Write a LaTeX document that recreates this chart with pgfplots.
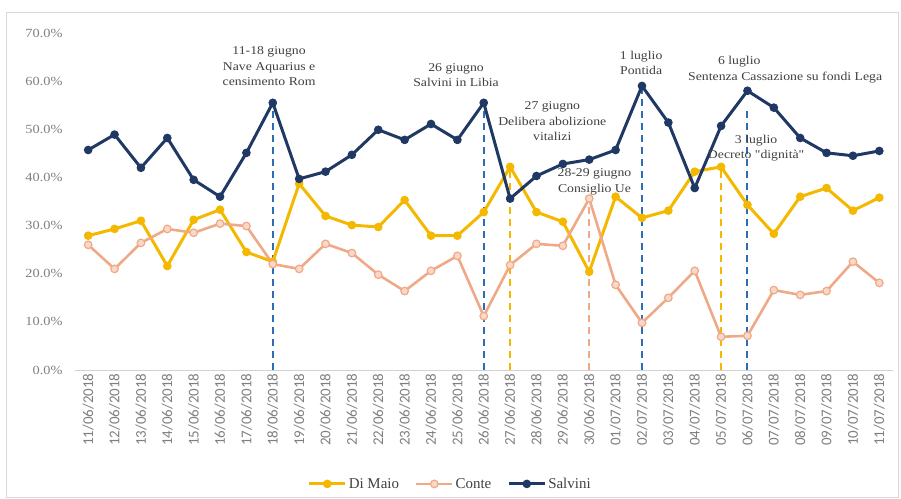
\documentclass[border=0pt]{standalone}
\usepackage{pgfplots}
\pgfplotsset{compat=1.18}
\usepackage{pgfplotstable}
\usepackage{fontspec}
\setmainfont{Liberation Serif}
\newfontfamily\annotfont[FakeStretch=1.15]{Liberation Serif}
\newfontfamily\tickfont{Carlito}

\definecolor{dimaio}{HTML}{F5B800}
\definecolor{conte}{HTML}{F0A987}
\definecolor{salvini}{HTML}{1F3864}
\definecolor{vline}{HTML}{2E6DB4}
\definecolor{txt}{HTML}{404040}
\definecolor{lbl}{HTML}{7F7F7F}

% values in percent, one row per day (11/06 - 11/07/2018)
\pgfplotstableread{
x  dimaio conte salvini
0  27.9   26.0  45.7
1  29.3   21.0  48.9
2  31.0   26.4  42.0
3  21.6   29.3  48.2
4  31.2   28.5  39.5
5  33.3   30.4  36.0
6  24.5   29.9  45.1
7  22.5   22.0  55.5
8  38.7   21.0  39.7
9  32.0   26.2  41.2
10 30.1   24.3  44.7
11 29.7   19.8  49.9
12 35.3   16.4  47.8
13 27.9   20.6  51.1
14 27.9   23.7  47.8
15 32.8   11.2  55.5
16 42.2   21.8  35.6
17 32.8   26.2  40.3
18 30.8   25.8  42.8
19 20.4   35.6  43.7
20 36.0   17.7  45.7
21 31.6    9.8  59.0
22 33.1   15.0  51.4
23 41.2   20.6  37.8
24 42.2    6.9  50.7
25 34.3    7.1  58.0
26 28.3   16.6  54.5
27 36.0   15.6  48.2
28 37.8   16.4  45.1
29 33.1   22.5  44.5
30 35.8   18.1  45.5
}\data

\begin{document}
\begin{tikzpicture}
\begin{axis}[
    name=ax,
    scale only axis,
    width=817.5bp, height=337bp,
    xmin=-0.5, xmax=30.5,
    ymin=0, ymax=70,
    clip=false,
    axis lines*=left,
    y axis line style={draw=none},
    x axis line style={draw=gray!35, line width=1bp},
    major tick length=0,
    xtick={0,...,30},
    xticklabels={11/06/2018,12/06/2018,13/06/2018,14/06/2018,15/06/2018,16/06/2018,
        17/06/2018,18/06/2018,19/06/2018,20/06/2018,21/06/2018,22/06/2018,23/06/2018,
        24/06/2018,25/06/2018,26/06/2018,27/06/2018,28/06/2018,29/06/2018,30/06/2018,
        01/07/2018,02/07/2018,03/07/2018,04/07/2018,05/07/2018,06/07/2018,07/07/2018,
        08/07/2018,09/07/2018,10/07/2018,11/07/2018},
    xticklabel style={rotate=90, anchor=east, text=lbl,
        font=\tickfont\fontsize{15}{15}\selectfont},
    ytick={0,10,...,70},
    yticklabel={\pgfmathprintnumber[fixed,fixed zerofill,precision=1]{\tick}\%},
    yticklabel style={text=lbl, xshift=-9bp, font=\annotfont\fontsize{12.5}{12.5}\selectfont},
    /pgf/number format/assume math mode=true,
    legend columns=3,
    legend style={at={(0.459,-0.338)}, anchor=center, draw=none,
        font=\fontsize{15}{15}\selectfont, text=txt,
        /tikz/every even column/.append style={column sep=14bp}},
    legend image code/.code={
        \draw[mark repeat=2,mark phase=2] plot coordinates {(0bp,0bp) (18bp,0bp) (36bp,0bp)};
    },
]

% dashed event markers
\addplot[ycomb, vline, line width=2bp, dash pattern=on 7bp off 5bp, forget plot]
    coordinates {(7,55.5) (15,55.5) (21,59.0) (25,54)};
\addplot[ycomb, dimaio, line width=2bp, dash pattern=on 7bp off 5bp, forget plot]
    coordinates {(16,42.2) (24,42.2)};
\addplot[ycomb, conte, line width=2bp, dash pattern=on 7bp off 5bp, forget plot]
    coordinates {(19,35.6)};

\addplot[dimaio, line width=3bp, mark=*, mark size=3.8bp,
    mark options={fill=dimaio, draw=dimaio, line width=1bp}] table[x=x, y=dimaio] {\data};
\addlegendentry{Di Maio}
\addplot[conte, line width=2.6bp, mark=*, mark size=3.8bp,
    mark options={fill=conte!45, draw=conte, line width=1.2bp}] table[x=x, y=conte] {\data};
\addlegendentry{Conte}
\addplot[salvini, line width=3bp, mark=*, mark size=3.8bp,
    mark options={fill=salvini, draw=salvini, line width=1bp}] table[x=x, y=salvini] {\data};
\addlegendentry{Salvini}

\begin{scope}[every node/.style={align=center, text=txt,
        font=\annotfont\fontsize{12}{15.5}\selectfont}]
\node at (axis cs:6.86,63.1) {11-18 giugno\\Nave Aquarius e\\censimento Rom};
\node at (axis cs:13.95,61.3) {26 giugno\\Salvini in Libia};
\node at (axis cs:17.6,51.7) {27 giugno\\Delibera abolizione\\vitalizi};
\node at (axis cs:19.2,39.1) {28-29 giugno\\Consiglio Ue};
\node at (axis cs:20.97,63.8) {1 luglio\\Pontida};
\node at (axis cs:24.69,64.0) {6 luglio};
\node at (axis cs:26.43,60.7) {Sentenza Cassazione su fondi Lega};
\node at (axis cs:25.33,46.1) {3 luglio\\Decreto "dignità"};
\end{scope}
\end{axis}
\pgfresetboundingbox
\draw[gray!30, line width=1bp] ([shift={(-68bp,-127bp)}]ax.south west)
    rectangle ([shift={(823bp,357bp)}]ax.south west);
\path[use as bounding box] ([shift={(-75bp,-129bp)}]ax.south west)
    rectangle ([shift={(826bp,370bp)}]ax.south west);
\end{tikzpicture}
\end{document}
